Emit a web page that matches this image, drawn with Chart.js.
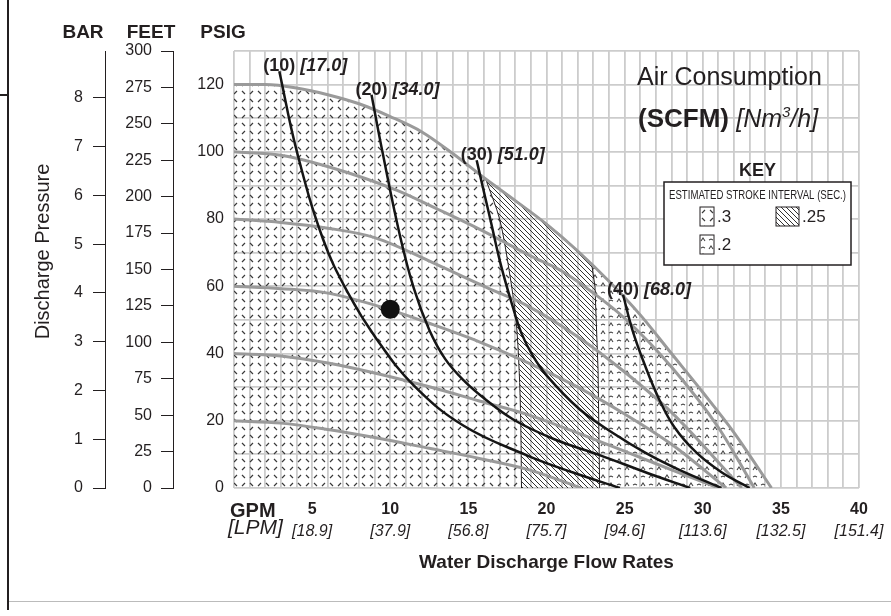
<!DOCTYPE html>
<html>
<head>
<meta charset="utf-8">
<script src="https://cdn.jsdelivr.net/npm/chart.js@4.4.0/dist/chart.umd.min.js"></script>
<style>
  body { margin: 0; background: #fff; }
  #wrap { position: relative; width: 891px; height: 616px; }
  #frameV { position: absolute; left: 7px; top: 0; width: 2px; height: 610px; background: #231f20; }
  #frameH { position: absolute; left: 0; top: 94px; width: 8px; height: 2px; background: #231f20; }
  #frameB { position: absolute; left: 9px; top: 601px; width: 882px; height: 1px; background: #bbb; }
</style>
</head>
<body>
<div id="wrap">
  <canvas id="myChart" width="891" height="616"></canvas>
  <div id="frameV"></div><div id="frameH"></div><div id="frameB"></div>
</div>
<script>
// axis ticks
var gpmTicks = [5, 10, 15, 20, 25, 30, 35, 40];
var lpmLabels = ['[18.9]', '[37.9]', '[56.8]', '[75.7]', '[94.6]', '[113.6]', '[132.5]', '[151.4]'];
var psiTicks = [0, 20, 40, 60, 80, 100, 120];
var feetTicks = [0, 25, 50, 75, 100, 125, 150, 175, 200, 225, 250, 275, 300];
var barTicks = [0, 1, 2, 3, 4, 5, 6, 7, 8];

// discharge pressure (PSIG) vs flow (GPM) at each air inlet pressure
var psi20 = [[0,20],[3,19.3],[6,17.4],[9,15],[12.5,11.8],[15.7,8.8],[18.9,5.4],[22.2,0]];
var psi40 = [[0,40],[3,39.3],[6.1,37.1],[9,34.2],[12.5,30.1],[15.7,25.9],[18.9,21.7],[22.2,16],[25.5,10],[28.5,4.5],[31,0]];
var psi60 = [[0,60],[3,59.3],[6.1,57.9],[10,53],[12.5,49],[15.7,43.5],[18.9,37.1],[22,30],[25,22],[28,13],[31.5,0]];
var psi80 = [[0,80],[3,79],[6,77.3],[9,74.5],[13.2,66],[16,60],[18.9,53.9],[22,45],[25,34.5],[28,22.5],[32.5,0]];
var psi100 = [[0,100],[3,99],[6.1,95.5],[10.4,88.6],[13,83],[15.7,77],[19,69],[21,64.5],[23,58],[25,50.5],[28,36],[31,18],[33.3,0]];
var psi120 = [[0,120],[2,120],[4,119],[6,117],[8,114.3],[10,110.5],[12,106],[14,99.5],[16,92.3],[18,85.5],[20,78.5],[22,70.5],[24,61.5],[26,51.5],[28,40],[30,28.5],[32,16.5],[34.4,0]];

// air consumption curves (SCFM)
var scfm10 = [[2.9,124],[4,100.5],[5.7,74],[7.3,58],[9.1,44.5],[11.5,30.5],[14.7,18.5],[18.7,9.8],[21.7,4.6],[24.7,0]];
var scfm20 = [[8.8,117],[9.5,100],[10.6,75.5],[11.5,59.5],[12.5,47],[13.5,38.5],[14.7,32],[16,26.7],[17.9,20.3],[20.5,14.5],[23.4,9.8],[26.5,4.4],[29.2,0]];
var scfm30 = [[15.53,97.5],[15.9,90],[16.4,80],[17.1,66],[17.9,53],[18.4,46],[19.1,39.5],[20,33.5],[22.1,23.5],[24.3,16.2],[26.4,10.3],[28.5,5.4],[31.2,0]];
var scfm40 = [[24.9,57.5],[25.5,47],[26.3,36.5],[27.2,26.5],[28.2,18],[29.6,10.5],[31.2,4.7],[33,0]];
var airLabels = ['(10)', '(20)', '(30)', '(40)'];
var nm3Labels = ['[17.0]', '[34.0]', '[51.0]', '[68.0]'];

// stroke interval zone edges, top to bottom
var edgeLeft = [[16.1,92],[17,80],[17.6,65],[18.05,50],[18.25,35],[18.35,20],[18.4,0]];
var edgeRight = [[22.9,66.4],[23.1,60],[23.3,35],[23.4,0]];

var dotPoint = [[10, 53.2]];

var FONT = '"Liberation Sans", Arial, Helvetica, sans-serif';
var INK = '#231f20';

function pts(arr) {
  return arr.map(function(p) { return {x: p[0], y: p[1]}; });
}

var canvas = document.getElementById('myChart');
var mainCtx = canvas.getContext('2d');

function makePattern(size, color, width, draw) {
  var c = document.createElement('canvas');
  c.width = size; c.height = size;
  var g = c.getContext('2d');
  g.strokeStyle = color;
  g.lineWidth = width;
  g.beginPath();
  draw(g);
  g.stroke();
  return mainCtx.createPattern(c, 'repeat');
}

var pat3 = makePattern(16, '#3a3a3a', 1.2, function(g) {
  g.moveTo(2, 6); g.lineTo(5, 3);
  g.moveTo(10, 3); g.lineTo(13, 6);
  g.moveTo(2, 11); g.lineTo(5, 14);
  g.moveTo(10, 14); g.lineTo(13, 11);
});
var pat25 = makePattern(5, '#333', 1, function(g) {
  g.moveTo(-1, -1); g.lineTo(6, 6);
  g.moveTo(-1, 4); g.lineTo(1, 6);
  g.moveTo(4, -1); g.lineTo(6, 1);
});
var pat2 = makePattern(16, '#444', 1.1, function(g) {
  g.moveTo(1, 6); g.lineTo(3, 3); g.lineTo(5, 6);
  g.moveTo(9, 14); g.lineTo(11, 11); g.lineTo(13, 14);
  g.moveTo(9, 5); g.lineTo(11, 4); g.lineTo(13, 5);
  g.moveTo(1, 13); g.lineTo(3, 12); g.lineTo(5, 13);
});

// zones built from the envelope curve and the edges
var topLeft = edgeLeft[0][0], topRight = edgeRight[0][0];
var zone3 = [[0,0]].concat(psi120.filter(function(p){ return p[0] < topLeft; }), edgeLeft);
var zone25 = edgeLeft.slice().reverse().concat(
  psi120.filter(function(p){ return p[0] > topLeft && p[0] < topRight; }), edgeRight);
var zone2 = edgeRight.slice().reverse().concat(psi120.filter(function(p){ return p[0] > topRight; }));

function zoneSet(data, pattern) {
  return {data: pts(data), fill: 'shape', backgroundColor: pattern, borderColor: 'rgba(0,0,0,0)',
    borderWidth: 0, pointRadius: 0, tension: 0, order: 4};
}
function grayCurve(data) {
  return {data: pts(data), borderColor: '#9a9a9a', borderWidth: 3, pointRadius: 0,
    cubicInterpolationMode: 'monotone', fill: false, order: 2};
}
function airCurve(data) {
  return {data: pts(data), borderColor: '#151515', borderWidth: 2.5, pointRadius: 0,
    tension: 0.4, fill: false, order: 1};
}

var grayCurves = [psi20, psi40, psi60, psi80, psi100, psi120];
var airCurves = [scfm10, scfm20, scfm30, scfm40];

var datasets = [
  zoneSet(zone3, pat3),
  zoneSet(zone25, pat25),
  zoneSet(zone2, pat2),
  {data: pts(edgeLeft), borderColor: INK, borderWidth: 1, pointRadius: 0, tension: 0.3, fill: false, order: 3},
  {data: pts(edgeRight), borderColor: INK, borderWidth: 1, pointRadius: 0, fill: false, order: 3}
];
grayCurves.forEach(function(c) { datasets.push(grayCurve(c)); });
airCurves.forEach(function(c) { datasets.push(airCurve(c)); });
datasets.push({data: pts(dotPoint), showLine: false, pointRadius: 9.5, pointBackgroundColor: '#111',
  pointBorderWidth: 0, order: 0});

var chartText = {
  id: 'chartText',
  afterDatasetsDraw: function(chart) {
    var ctx = chart.ctx, area = chart.chartArea;
    var xs = chart.scales.x, ys = chart.scales.y, sb = chart.scales.yBar, sf = chart.scales.yFeet;
    ctx.save();
    ctx.fillStyle = INK;
    ctx.textBaseline = 'middle';
    ctx.textAlign = 'center';

    // unit headers
    ctx.font = 'bold 19px ' + FONT;
    ctx.fillText('BAR', sb.right - 22, area.top - 18);
    ctx.fillText('FEET', sf.right - 22, area.top - 18);
    ctx.fillText('PSIG', ys.right - 11, area.top - 18);

    ctx.save();
    ctx.translate(sb.left + 23, (area.top + area.bottom) / 2 - 18);
    ctx.rotate(-Math.PI / 2);
    ctx.font = '20px ' + FONT;
    ctx.fillText('Discharge Pressure', 0, 0);
    ctx.restore();

    ctx.textAlign = 'left';
    ctx.font = 'bold 20px ' + FONT;
    ctx.fillText('GPM', area.left - 4, area.bottom + 23);
    ctx.font = 'italic 21px ' + FONT;
    ctx.fillText('[LPM]', area.left - 6, area.bottom + 40);

    // curve labels
    airCurves.forEach(function(c, i) {
      var px = xs.getPixelForValue(c[0][0]), py = ys.getPixelForValue(c[0][1]);
      ctx.font = 'bold 18px ' + FONT;
      ctx.textAlign = 'center';
      ctx.fillText(airLabels[i], px, py - 5);
      var w = ctx.measureText(airLabels[i]).width;
      ctx.font = 'italic bold 18px ' + FONT;
      ctx.textAlign = 'left';
      ctx.fillText(nm3Labels[i], px + w / 2 + 5, py - 5);
    });

    // title
    ctx.textBaseline = 'alphabetic';
    ctx.textAlign = 'left';
    var tx = area.right - 222;
    ctx.font = '25px ' + FONT;
    ctx.fillText('Air Consumption', tx, area.top + 34);
    ctx.font = 'bold 26px ' + FONT;
    ctx.fillText('(SCFM) ', tx + 1, area.top + 76);
    var x2 = tx + 1 + ctx.measureText('(SCFM) ').width;
    ctx.font = 'italic 25px ' + FONT;
    ctx.fillText('[Nm', x2, area.top + 76);
    x2 += ctx.measureText('[Nm').width;
    ctx.font = 'italic 15px ' + FONT;
    ctx.fillText('3', x2, area.top + 66);
    x2 += ctx.measureText('3').width;
    ctx.font = 'italic 25px ' + FONT;
    ctx.fillText('/h]', x2, area.top + 76);

    // key
    var bl = area.right - 195, bt = area.top + 131, bw = 187, bh = 83;
    ctx.textBaseline = 'middle';
    ctx.textAlign = 'center';
    ctx.font = 'bold 18px ' + FONT;
    ctx.fillText('KEY', bl + bw / 2, bt - 11);
    ctx.fillStyle = '#fff';
    ctx.fillRect(bl, bt, bw, bh);
    ctx.strokeStyle = INK;
    ctx.lineWidth = 1.5;
    ctx.strokeRect(bl, bt, bw, bh);
    ctx.fillStyle = INK;
    ctx.font = '13px ' + FONT;
    var head = 'ESTIMATED STROKE INTERVAL (SEC.)';
    var hw = ctx.measureText(head).width;
    ctx.save();
    ctx.translate(bl + bw / 2, bt + 13);
    ctx.scale(177 / hw, 1);
    ctx.fillText(head, 0, 0);
    ctx.restore();

    var keys = [
      {pat: pat3, label: '.3', x: 36, y: 25, w: 14},
      {pat: pat25, label: '.25', x: 112, y: 25, w: 23},
      {pat: pat2, label: '.2', x: 36, y: 53, w: 14}
    ];
    ctx.textAlign = 'left';
    ctx.font = '17px ' + FONT;
    keys.forEach(function(k) {
      ctx.save();
      ctx.translate(bl + k.x, bt + k.y);
      ctx.fillStyle = k.pat;
      ctx.fillRect(0, 0, k.w, 19);
      ctx.strokeStyle = INK;
      ctx.lineWidth = 1;
      ctx.strokeRect(0, 0, k.w, 19);
      ctx.restore();
      ctx.fillStyle = INK;
      ctx.fillText(k.label, bl + k.x + k.w + 3, bt + k.y + 10);
    });
    ctx.restore();
  }
};

var tickFont = {family: FONT, size: 16};

new Chart(canvas, {
  type: 'line',
  data: {datasets: datasets},
  options: {
    responsive: false,
    animation: false,
    events: [],
    layout: {padding: {left: 20, top: 51, right: 32, bottom: 40}},
    plugins: {legend: {display: false}, tooltip: {enabled: false}},
    scales: {
      x: {
        type: 'linear', position: 'bottom', min: 0, max: 40, weight: 0,
        grid: {color: '#cccccc', lineWidth: 1.8, drawTicks: false},
        border: {display: false},
        ticks: {
          stepSize: 1, autoSkip: false, maxRotation: 0, padding: 12, color: INK,
          font: {family: FONT, size: 16, weight: 'bold'},
          callback: function(v) { return gpmTicks.indexOf(v) >= 0 ? String(v) : ''; }
        },
        afterFit: function(s) { s.height = 33; }
      },
      xLpm: {
        type: 'linear', position: 'bottom', min: 0, max: 40, weight: 1,
        grid: {display: false, drawTicks: false},
        border: {display: false},
        afterBuildTicks: function(s) { s.ticks = gpmTicks.map(function(v) { return {value: v}; }); },
        ticks: {
          autoSkip: false, maxRotation: 0, padding: 1, color: INK,
          font: {family: FONT, size: 16, style: 'italic'},
          callback: function(v, i) { return lpmLabels[i]; }
        },
        title: {
          display: true, text: 'Water Discharge Flow Rates', color: INK,
          font: {family: FONT, size: 19, weight: 'bold'}, padding: {top: 0, bottom: 2}
        },
        afterFit: function(s) { s.height = 55; }
      },
      y: {
        type: 'linear', position: 'left', min: 0, max: 130, weight: 1,
        grid: {color: '#cccccc', lineWidth: 1.8, drawTicks: false},
        border: {display: false},
        ticks: {
          stepSize: 10, padding: 10, color: INK, font: tickFont,
          callback: function(v) { return psiTicks.indexOf(v) >= 0 ? String(v) : ''; }
        },
        afterFit: function(s) { s.width = 61; }
      },
      yFeet: {
        type: 'linear', position: 'left', min: 0, max: 300, weight: 2,
        grid: {drawOnChartArea: false, drawTicks: true, tickLength: 12, color: INK, lineWidth: 1},
        border: {display: true, color: INK, width: 1},
        afterBuildTicks: function(s) { s.ticks = feetTicks.map(function(v) { return {value: v}; }); },
        ticks: {padding: 9, color: INK, font: tickFont},
        afterFit: function(s) { s.width = 68; }
      },
      yBar: {
        type: 'linear', position: 'left', min: 0, max: 130 / 14.5038, weight: 3,
        grid: {drawOnChartArea: false, drawTicks: true, tickLength: 12, color: INK, lineWidth: 1},
        border: {display: true, color: INK, width: 1},
        afterBuildTicks: function(s) { s.ticks = barTicks.map(function(v) { return {value: v}; }); },
        ticks: {padding: 10, color: INK, font: tickFont},
        afterFit: function(s) { s.width = 85; }
      }
    }
  },
  plugins: [chartText]
});
</script>
</body>
</html>
